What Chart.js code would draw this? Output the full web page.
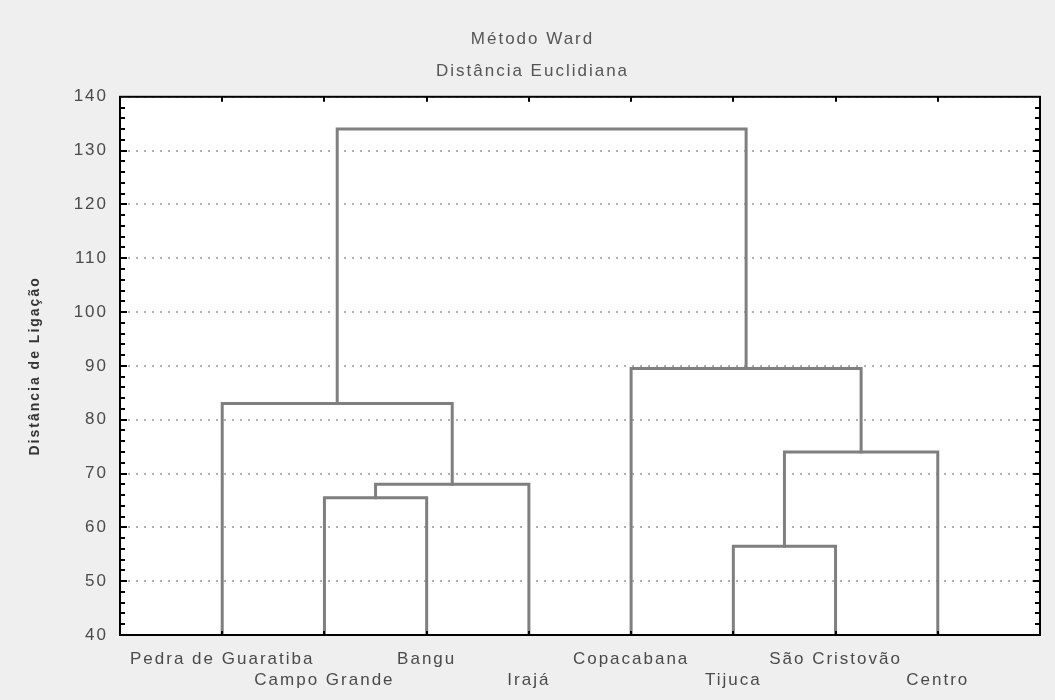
<!DOCTYPE html>
<html>
<head>
<meta charset="utf-8">
<script src="https://cdn.jsdelivr.net/npm/chart.js@4"></script>
<style>
  html, body { margin: 0; padding: 0; background: #efefef; }
  canvas { display: block; }
</style>
</head>
<body>
<canvas id="grafica" width="1055" height="700"></canvas>
<script>
// Dendrograma - Método Ward

// Folhas (ordem no eixo X)
const bairros = ['Pedra de Guaratiba', 'Campo Grande', 'Bangu', 'Irajá',
                 'Copacabana', 'Tijuca', 'São Cristovão', 'Centro'];

// Fusões: nós 0..7 são as folhas, 8.. são os grupos formados
const fusaoEsq    = [1, 8, 0, 5, 11, 4, 10];
const fusaoDir    = [2, 3, 9, 6, 7, 12, 13];
const fusaoAltura = [65.5, 68, 83, 56.5, 74, 89.5, 134];

const yTicks = [40, 50, 60, 70, 80, 90, 100, 110, 120, 130, 140];
const yMin = 40, yMax = 140;

// posições e alturas de cada nó
const posX = bairros.map((b, i) => i + 1);
const altura = bairros.map(() => yMin);
for (let k = 0; k < fusaoAltura.length; k++) {
    const a = fusaoEsq[k], b = fusaoDir[k];
    posX.push((posX[a] + posX[b]) / 2);
    altura.push(fusaoAltura[k]);
}

// um dataset por "U" do dendrograma
const datasets = [];
for (let k = 0; k < fusaoAltura.length; k++) {
    const a = fusaoEsq[k], b = fusaoDir[k];
    datasets.push({
        data: [
            { x: posX[a], y: altura[a] },
            { x: posX[a], y: fusaoAltura[k] },
            { x: posX[b], y: fusaoAltura[k] },
            { x: posX[b], y: altura[b] }
        ],
        showLine: true,
        borderColor: '#7f7f7f',
        borderWidth: 3,
        pointRadius: 0,
        fill: false,
        tension: 0,
        borderCapStyle: 'square',
        borderJoinStyle: 'miter'
    });
}

const FONTE = 'Liberation Sans';
const ESPACO = '2px'; // espaçamento entre letras (texto largo do original)

// fundo cinza, área branca, moldura preta e marcas internas
const molduraPlugin = {
    id: 'moldura',
    beforeLayout(chart) {
        chart.ctx.letterSpacing = ESPACO;
    },
    beforeDraw(chart) {
        const { ctx, chartArea: ca } = chart;
        ctx.letterSpacing = ESPACO;
        ctx.save();
        ctx.fillStyle = '#efefef';
        ctx.fillRect(0, 0, chart.width, chart.height);
        ctx.fillStyle = '#ffffff';
        ctx.fillRect(ca.left, ca.top, ca.right - ca.left, ca.bottom - ca.top);
        ctx.restore();
    },
    afterDraw(chart) {
        const { ctx, chartArea: ca, scales } = chart;
        ctx.save();
        ctx.strokeStyle = '#000';
        ctx.lineWidth = 2;
        ctx.strokeRect(ca.left, ca.top, ca.right - ca.left, ca.bottom - ca.top);
        ctx.beginPath();
        for (let v = yMin + 2; v < yMax; v += 2) {
            const y = Math.round(scales.y.getPixelForValue(v));
            const len = (v % 10 === 0) ? 7 : 5;
            ctx.moveTo(ca.left, y); ctx.lineTo(ca.left + len, y);
            ctx.moveTo(ca.right, y); ctx.lineTo(ca.right - len, y);
        }
        posX.slice(0, bairros.length).forEach(p => {
            const x = Math.round(scales.x.getPixelForValue(p));
            ctx.moveTo(x, ca.top); ctx.lineTo(x, ca.top + 5);
            ctx.moveTo(x, ca.bottom); ctx.lineTo(x, ca.bottom - 4);
        });
        ctx.stroke();
        ctx.restore();
    }
};

new Chart(document.getElementById('grafica'), {
    type: 'scatter',
    data: { datasets: datasets },
    options: {
        responsive: false,
        animation: false,
        layout: { padding: { top: 29, right: 15, left: 25, bottom: 0 } },
        plugins: {
            legend: { display: false },
            tooltip: { enabled: false },
            title: {
                display: true,
                text: 'Método Ward',
                color: '#555',
                font: { family: FONTE, size: 17, weight: 'normal', lineHeight: 1.2 },
                padding: { top: 0, bottom: 12 }
            },
            subtitle: {
                display: true,
                text: 'Distância Euclidiana',
                color: '#555',
                font: { family: FONTE, size: 17, weight: 'normal', lineHeight: 1.2 },
                padding: { top: 0, bottom: 15 }
            }
        },
        scales: {
            x: {
                type: 'linear',
                min: 0,
                max: bairros.length + 1,
                afterBuildTicks: (scale) => {
                    scale.ticks = posX.slice(0, bairros.length).map(v => ({ value: v }));
                },
                afterFit: (scale) => { scale.height = 65; },
                grid: { display: false, drawTicks: false },
                border: { display: false },
                ticks: {
                    autoSkip: false,
                    maxRotation: 0,
                    padding: 14,
                    color: '#4a4a4a',
                    font: { family: FONTE, size: 17, lineHeight: '21px' },
                    callback: (v) => {
                        const i = Math.round(v) - 1;
                        if (i < 0 || i >= bairros.length) return '';
                        return i % 2 === 0 ? [bairros[i], ''] : ['', bairros[i]];
                    }
                }
            },
            y: {
                min: yMin,
                max: yMax,
                afterBuildTicks: (scale) => {
                    scale.ticks = yTicks.map(v => ({ value: v }));
                },
                afterFit: (scale) => { scale.width = 95; },
                grid: {
                    color: '#b0b0b0',
                    lineWidth: 2,
                    drawTicks: false
                },
                border: { display: false, dash: [2, 6] },
                ticks: {
                    padding: 12,
                    color: '#4a4a4a',
                    font: { family: FONTE, size: 17 }
                },
                title: {
                    display: true,
                    text: 'Distância de Ligação',
                    color: '#333',
                    font: { family: FONTE, size: 14, weight: 'bold' },
                    padding: { top: 2, bottom: 0 }
                }
            }
        }
    },
    plugins: [molduraPlugin]
});
</script>
</body>
</html>
